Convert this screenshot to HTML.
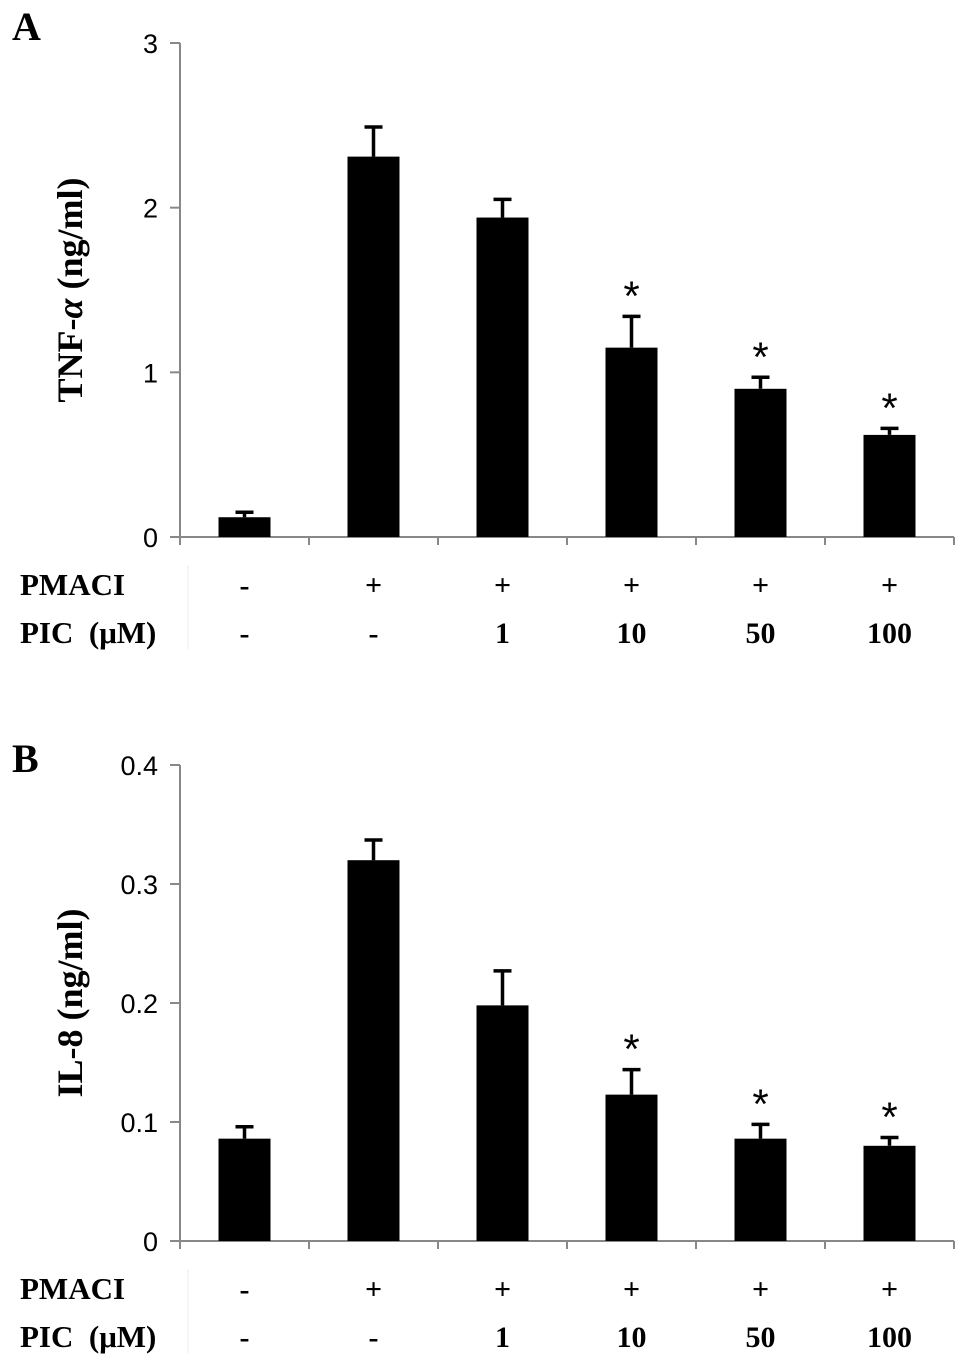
<!DOCTYPE html>
<html><head><meta charset="utf-8"><style>
body{margin:0;background:#fff;}
svg text{font-family:"Liberation Sans",sans-serif;}
.serif{font-family:"Liberation Serif",serif;font-weight:bold;}
</style></head><body>
<svg id="fig" width="969" height="1363" xmlns="http://www.w3.org/2000/svg"></svg>
<script>
const categories=["ctrl","PMACI","PIC1","PIC10","PIC50","PIC100"];
const pmaciLabels=["-","+","+","+","+","+"];
const picLabels=["-","-","1","10","50","100"];
const tnfValues=[0.12,2.31,1.94,1.15,0.90,0.62];
const tnfErrors=[0.03,0.18,0.11,0.19,0.07,0.04];
const tnfStars=[false,false,false,true,true,true];
const tnfTicks=[0,1,2,3];
const il8Values=[0.086,0.320,0.198,0.123,0.086,0.080];
const il8Errors=[0.010,0.017,0.029,0.021,0.012,0.007];
const il8Stars=[false,false,false,true,true,true];
const il8Ticks=[0,0.1,0.2,0.3,0.4];

const NS="http://www.w3.org/2000/svg";
const svg=document.getElementById('fig');
function mk(tag,attrs,parent,text){const e=document.createElementNS(NS,tag);for(const k in attrs)e.setAttribute(k,attrs[k]);if(text!==undefined)e.textContent=text;(parent||svg).appendChild(e);return e;}

function panel(cfg){
  const g=mk('g',{});
  
  
  const x0=180,step=129,n=categories.length,x1=x0+step*n;
  const y=v=>cfg.y0-(v-cfg.min)/(cfg.max-cfg.min)*(cfg.y0-cfg.yTop);
  const xc=i=>x0+step*(i+0.5);
  const ya=mk('line',{x1:x0,y1:cfg.yTop,x2:x0,y2:cfg.y0+8,stroke:'#888','stroke-width':2},g);
  
  const xa=mk('line',{x1:x0-10,y1:cfg.y0,x2:x1,y2:cfg.y0,stroke:'#888','stroke-width':2},g);
  
  for(let i=1;i<=n;i++){const t=mk('line',{x1:x0+step*i,y1:cfg.y0,x2:x0+step*i,y2:cfg.y0+8,stroke:'#888','stroke-width':2},g);
    }
  cfg.ticks.forEach(v=>{
    const t=mk('line',{x1:x0-10,y1:y(v),x2:x0,y2:y(v),stroke:'#888','stroke-width':2},g);
    
    const l=mk('text',{x:x0-22,y:y(v)+10,'text-anchor':'end','font-size':27},g,String(v));
    
  });
  cfg.values.forEach((v,i)=>{
    const bw=52;
    const b=mk('rect',{x:xc(i)-bw/2,y:y(v),width:bw,height:cfg.y0-y(v),fill:'#000'},g);
    
    const et=y(v+cfg.errors[i]);
    const e=mk('path',{d:`M${xc(i)} ${y(v)}V${et}M${xc(i)-9} ${et}H${xc(i)+9}`,stroke:'#000','stroke-width':3.5,fill:'none'},g);
    
    if(cfg.stars[i]){const s=mk('text',{x:xc(i),y:et-6,'text-anchor':'middle','font-size':42},g,'*');
      }
    const p=mk('text',{x:xc(i),y:cfg.y0+58,'text-anchor':'middle','font-size':30,class:'serif'},g,pmaciLabels[i]);
    
    const q=mk('text',{x:xc(i),y:cfg.y0+106,'text-anchor':'middle','font-size':30,class:'serif'},g,picLabels[i]);
    
  });
  const r1=mk('text',{x:20,y:cfg.y0+58,'font-size':31,class:'serif'},g,'PMACI');
  
  const r2=mk('text',{x:20,y:cfg.y0+106,'font-size':31,class:'serif'},g,'PIC\u00a0\u00a0(μM)');
  
  const sep=mk('line',{x1:188,y1:cfg.y0+28,x2:188,y2:cfg.y0+112,stroke:'#eee','stroke-width':1},g);
  
  const my=(cfg.y0+cfg.yTop)/2;
  const yt=mk('text',{x:0,y:0,transform:`translate(82 ${my}) rotate(-90)`,'text-anchor':'middle','font-size':36,class:'serif'},g);
  
  yt.innerHTML=cfg.titleHtml;
  const pl=mk('text',{x:12,y:cfg.letterY,'font-size':40,class:'serif'},g,cfg.letter);
  
}
panel({name:'panel-a-tnf',values:tnfValues,errors:tnfErrors,stars:tnfStars,ticks:tnfTicks,min:0,max:3,y0:537,yTop:43,
  titleHtml:'TNF-<tspan font-style="italic">α</tspan> (ng/ml)',letter:'A',letterY:40});
panel({name:'panel-b-il8',values:il8Values,errors:il8Errors,stars:il8Stars,ticks:il8Ticks,min:0,max:0.4,y0:1241,yTop:765,
  titleHtml:'IL-8 (ng/ml)',letter:'B',letterY:772});
</script>
</body></html>
